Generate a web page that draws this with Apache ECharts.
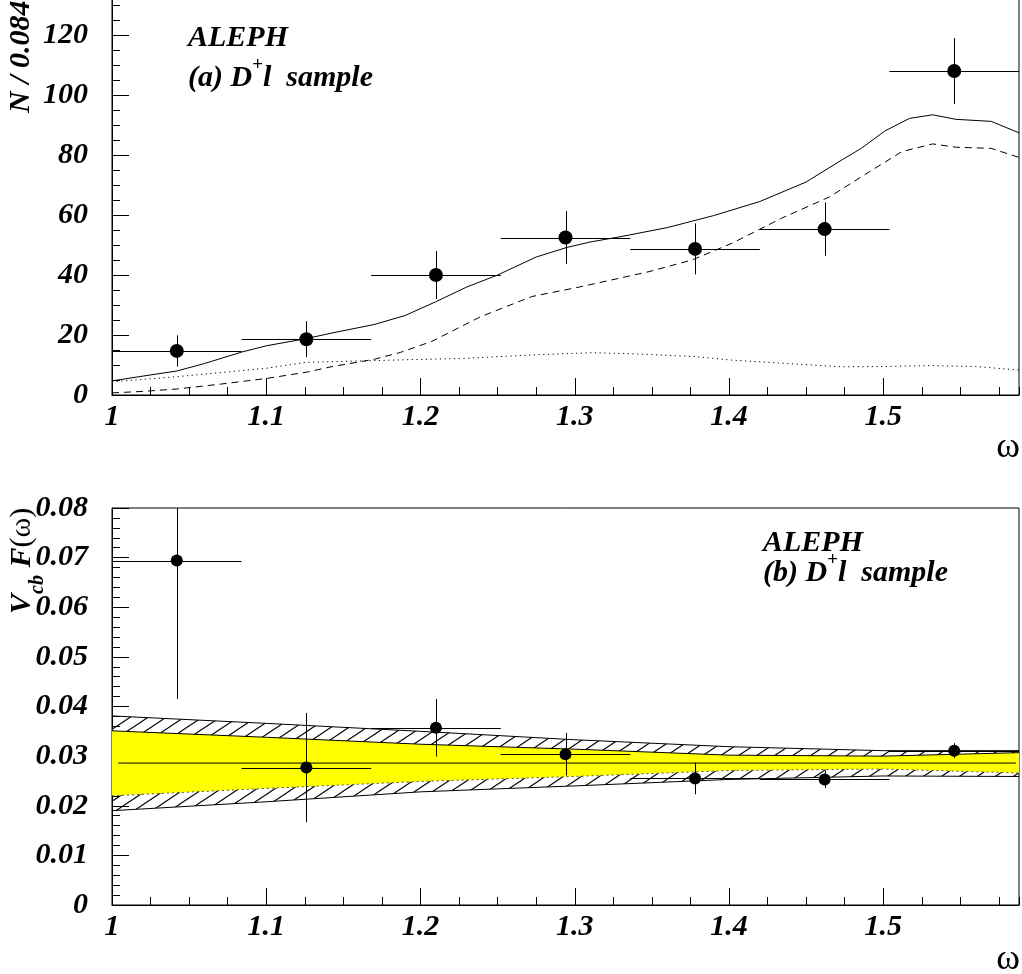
<!DOCTYPE html>
<html>
<head>
<meta charset="utf-8">
<script src="https://cdn.jsdelivr.net/npm/echarts@6/dist/echarts.min.js"></script>
<style>
  html, body { margin: 0; padding: 0; background: #fff; }
  #chart { width: 1022px; height: 974px; }
</style>
</head>
<body>
<div id="chart"></div>
<script>
  // bins of width 0.084 in omega
  var binCenters = [1.042, 1.126, 1.210, 1.294, 1.378, 1.462, 1.546];
  var binHalfWidth = 0.042;

  // (a) events per bin
  var nEvents = [14.7, 18.6, 40.0, 52.5, 48.7, 55.3, 108.0];
  var nErrors = [5.2, 6.0, 8.0, 8.8, 8.5, 8.9, 11.0];

  // (a) fitted curves: total (solid), signal (dashed), background (dotted)
  var totalOmega = [1.000, 1.020, 1.042, 1.060, 1.084, 1.100, 1.126, 1.142, 1.170, 1.190, 1.210, 1.230, 1.250, 1.275, 1.295,
                    1.310, 1.330, 1.360, 1.390, 1.420, 1.450, 1.473, 1.486, 1.501, 1.517, 1.532, 1.547, 1.570, 1.588];
  var totalN = [4.7, 6.3, 8.0, 10.5, 14.3, 16.4, 18.8, 20.6, 23.5, 26.5, 31.1, 36.0, 40.0, 46.0, 49.2,
                51.0, 52.8, 55.8, 59.8, 64.5, 71.0, 78.3, 82.3, 88.0, 92.2, 93.4, 91.9, 91.2, 87.4];
  var signalOmega = [1.000, 1.020, 1.042, 1.070, 1.100, 1.126, 1.142, 1.170, 1.187, 1.207, 1.239, 1.272, 1.304,
                     1.348, 1.376, 1.402, 1.434, 1.465, 1.491, 1.512, 1.532, 1.547, 1.570, 1.588];
  var signalN = [0.7, 1.2, 2.0, 3.6, 5.5, 7.6, 9.4, 11.9, 14.2, 17.8, 26.1, 32.8, 36.1,
                 41.1, 45.0, 50.6, 58.9, 66.0, 74.4, 81.1, 83.7, 82.6, 82.2, 79.2];
  var bkgOmega = [1.000, 1.042, 1.100, 1.126, 1.150, 1.187, 1.228, 1.270, 1.311, 1.340, 1.378, 1.400, 1.434,
                  1.473, 1.500, 1.530, 1.560, 1.588];
  var bkgN = [4.4, 6.1, 8.9, 10.9, 11.2, 11.7, 12.2, 13.3, 14.1, 13.7, 12.8, 11.7, 10.6,
              9.4, 9.5, 9.8, 9.5, 8.3];

  // (b) Vcb F(w) per bin
  var vcbF = [0.0694, 0.0277, 0.0357, 0.0304, 0.0255, 0.0253, 0.0311];
  var vcbErr = [0.0279, 0.0110, 0.0058, 0.0043, 0.0032, 0.0017, 0.0015];
  var fitValue = 0.0286;
  var fitOmega = [1.004, 1.586];

  // (b) error bands (hatched = total, yellow = inner)
  var bandOmega = [1.000, 1.100, 1.200, 1.300, 1.400, 1.500, 1.588];
  var hatchUpper = [0.0381, 0.0366, 0.0350, 0.0333, 0.0319, 0.0311, 0.0311];
  var yellowUpper = [0.0351, 0.0338, 0.0324, 0.0314, 0.0302, 0.0300, 0.0307];
  var yellowLower = [0.0220, 0.0235, 0.0249, 0.0259, 0.0271, 0.0274, 0.0266];
  var hatchLower = [0.0190, 0.0208, 0.0228, 0.0240, 0.0253, 0.0260, 0.0259];

  var serif = '"Liberation Serif", "DejaVu Serif", serif';
  var bi30 = 'italic bold 30px ' + serif;

  function zip(xs, ys) {
    return xs.map(function (x, i) { return [x, ys[i]]; });
  }
  function withErr(ys, es) {
    return binCenters.map(function (x, i) { return [x, ys[i], es[i]]; });
  }
  function px(v) { return Math.round(v) + 0.5; }

  // hatch pattern "/"
  var hatch = document.createElement('canvas');
  hatch.width = 18; hatch.height = 12;
  var hc = hatch.getContext('2d');
  hc.strokeStyle = '#000';
  hc.lineWidth = 1.1;
  [-18, 0, 18].forEach(function (o) {
    hc.beginPath();
    hc.moveTo(o - 18, 24);
    hc.lineTo(o + 36, -12);
    hc.stroke();
  });
  var hatchPattern = { image: hatch, repeat: 'repeat' };

  function errorBarRender(yTop) {
    return function (params, api) {
      var x = api.value(0), y = api.value(1), e = api.value(2);
      var mid = api.coord([x, y]);
      var l = api.coord([x - binHalfWidth, y]);
      var r = api.coord([x + binHalfWidth, y]);
      var hi = api.coord([x, Math.min(y + e, yTop)]);
      var lo = api.coord([x, Math.max(y - e, 0)]);
      var st = { stroke: '#000', lineWidth: 1 };
      return {
        type: 'group',
        children: [
          { type: 'line', shape: { x1: l[0], y1: px(mid[1]), x2: r[0], y2: px(mid[1]) }, style: st },
          { type: 'line', shape: { x1: px(mid[0]), y1: hi[1], x2: px(mid[0]), y2: lo[1] }, style: st }
        ]
      };
    };
  }

  function bandRender(params, api) {
    function pts(ys) {
      return bandOmega.map(function (x, i) { return api.coord([x, ys[i]]); });
    }
    var hu = pts(hatchUpper), hl = pts(hatchLower), yu = pts(yellowUpper), yl = pts(yellowLower);
    return {
      type: 'group',
      children: [
        { type: 'polygon', shape: { points: hu.concat(hl.slice().reverse()) }, style: { fill: hatchPattern } },
        { type: 'polygon', shape: { points: yu.concat(yl.slice().reverse()) }, style: { fill: '#ffff00' } },
        { type: 'polyline', shape: { points: hu }, style: { stroke: '#000', lineWidth: 1, fill: null } },
        { type: 'polyline', shape: { points: hl }, style: { stroke: '#000', lineWidth: 1, fill: null } },
        { type: 'polyline', shape: { points: yu }, style: { stroke: '#000', lineWidth: 1, fill: null } },
        { type: 'polyline', shape: { points: yl }, style: { stroke: '#555', lineWidth: 1, lineDash: [2, 3], fill: null } }
      ]
    };
  }

  var labelFont = { fontFamily: serif, fontStyle: 'italic', fontWeight: 'bold', fontSize: 30, color: '#000' };

  function xAxes(grid) {
    return [
      { // minor ticks
        type: 'value', gridIndex: grid, position: 'bottom', min: 1, max: 1.588, interval: 0.025,
        axisLine: { show: true, onZero: false, lineStyle: { color: '#000', width: 1 } },
        axisTick: { show: true, inside: true, length: 8, lineStyle: { color: '#000', width: 1 } },
        axisLabel: { show: false }, splitLine: { show: false }
      },
      { // major ticks + labels
        type: 'value', gridIndex: grid, position: 'bottom', min: 1, max: 1.588, interval: 0.1,
        axisLine: { show: false, onZero: false },
        axisTick: { show: true, inside: true, length: 17, lineStyle: { color: '#000', width: 1 } },
        axisLabel: Object.assign({ margin: 7, showMaxLabel: false }, labelFont),
        splitLine: { show: false }
      }
    ];
  }

  var chart = echarts.init(document.getElementById('chart'));
  chart.setOption({
    animation: false,
    backgroundColor: '#fff',
    grid: [
      { left: 112, right: 3, top: -25, bottom: 579, show: true, borderColor: '#000', borderWidth: 1, outerBoundsMode: 'none' },
      { left: 112, right: 3, top: 508, bottom: 69, show: true, borderColor: '#000', borderWidth: 1, outerBoundsMode: 'none' }
    ],
    xAxis: xAxes(0).concat(xAxes(1)),
    yAxis: [
      {
        type: 'value', gridIndex: 0, min: 0, max: 140, interval: 20,
        axisLine: { show: true, lineStyle: { color: '#000', width: 1 } },
        axisTick: { show: true, inside: true, length: 17, lineStyle: { color: '#000', width: 1 } },
        minorTick: { show: true, splitNumber: 4, length: 8, lineStyle: { color: '#000', width: 1 } },
        axisLabel: Object.assign({ margin: 24, showMaxLabel: false }, labelFont),
        splitLine: { show: false }
      },
      {
        type: 'value', gridIndex: 1, min: 0, max: 0.08, interval: 0.01,
        axisLine: { show: true, lineStyle: { color: '#000', width: 1 } },
        axisTick: { show: true, inside: true, length: 17, lineStyle: { color: '#000', width: 1 } },
        minorTick: { show: true, splitNumber: 5, length: 8, lineStyle: { color: '#000', width: 1 } },
        axisLabel: Object.assign({ margin: 24 }, labelFont),
        splitLine: { show: false }
      }
    ],
    series: [
      { type: 'line', xAxisIndex: 0, yAxisIndex: 0, data: zip(totalOmega, totalN),
        symbol: 'none', lineStyle: { color: '#000', width: 1 } },
      { type: 'line', xAxisIndex: 0, yAxisIndex: 0, data: zip(signalOmega, signalN),
        symbol: 'none', lineStyle: { color: '#000', width: 1, type: [7, 5] } },
      { type: 'line', xAxisIndex: 0, yAxisIndex: 0, data: zip(bkgOmega, bkgN),
        symbol: 'none', lineStyle: { color: '#000', width: 1, type: [1.2, 3.5] } },
      { type: 'custom', xAxisIndex: 0, yAxisIndex: 0, data: withErr(nEvents, nErrors),
        encode: { x: 0, y: 1 }, renderItem: errorBarRender(140) },
      { type: 'scatter', xAxisIndex: 0, yAxisIndex: 0, data: zip(binCenters, nEvents),
        symbol: 'circle', symbolSize: 14, itemStyle: { color: '#000', opacity: 1 } },

      { type: 'custom', xAxisIndex: 2, yAxisIndex: 1, data: [[bandOmega[0], fitValue]],
        encode: { x: 0, y: 1 }, renderItem: bandRender, z: 1 },
      { type: 'line', xAxisIndex: 2, yAxisIndex: 1, data: zip(fitOmega, [fitValue, fitValue]),
        symbol: 'none', lineStyle: { color: '#000', width: 1 }, z: 2 },
      { type: 'custom', xAxisIndex: 2, yAxisIndex: 1, data: withErr(vcbF, vcbErr),
        encode: { x: 0, y: 1 }, renderItem: errorBarRender(0.08), z: 3 },
      { type: 'scatter', xAxisIndex: 2, yAxisIndex: 1, data: zip(binCenters, vcbF),
        symbol: 'circle', symbolSize: 12, itemStyle: { color: '#000', opacity: 1 }, z: 4 }
    ],
    graphic: [
      { type: 'text', x: 188, y: 38, style: { text: 'ALEPH', font: bi30, fill: '#000', align: 'left', verticalAlign: 'middle' } },
      { type: 'text', x: 188, y: 78, style: {
          text: '{m|(a) D}{p|+}{m|l  sample}', align: 'left', verticalAlign: 'middle', fill: '#000',
          rich: { m: { font: bi30, lineHeight: 44, fill: '#000' },
                  p: { font: 'bold 19px ' + serif, lineHeight: 18, verticalAlign: 'top', fill: '#000' } } } },
      { type: 'text', x: 763, y: 543, style: { text: 'ALEPH', font: bi30, fill: '#000', align: 'left', verticalAlign: 'middle' } },
      { type: 'text', x: 763, y: 573, style: {
          text: '{m|(b) D}{p|+}{m|l  sample}', align: 'left', verticalAlign: 'middle', fill: '#000',
          rich: { m: { font: bi30, lineHeight: 44, fill: '#000' },
                  p: { font: 'bold 19px ' + serif, lineHeight: 18, verticalAlign: 'top', fill: '#000' } } } },
      { type: 'text', x: 21, y: 113, rotation: Math.PI / 2, style: {
          text: 'N / 0.084', font: bi30, fill: '#000', align: 'left', verticalAlign: 'middle' } },
      { type: 'text', x: 22, y: 614, rotation: Math.PI / 2, style: {
          text: '{m|V}{s|cb}{m| F}{r|(ω)}', align: 'left', verticalAlign: 'middle', fill: '#000',
          rich: { m: { font: bi30, lineHeight: 52, fill: '#000' },
                  s: { font: 'italic bold 20px ' + serif, lineHeight: 20, verticalAlign: 'bottom', fill: '#000' },
                  r: { font: '30px ' + serif, lineHeight: 52, fill: '#000' } } } },
      { type: 'text', x: 1008, y: 448, style: { text: 'ω', font: '36px ' + serif, fill: '#000', align: 'center', verticalAlign: 'middle' } },
      { type: 'text', x: 1008, y: 960, style: { text: 'ω', font: '36px ' + serif, fill: '#000', align: 'center', verticalAlign: 'middle' } }
    ]
  });
</script>
</body>
</html>
